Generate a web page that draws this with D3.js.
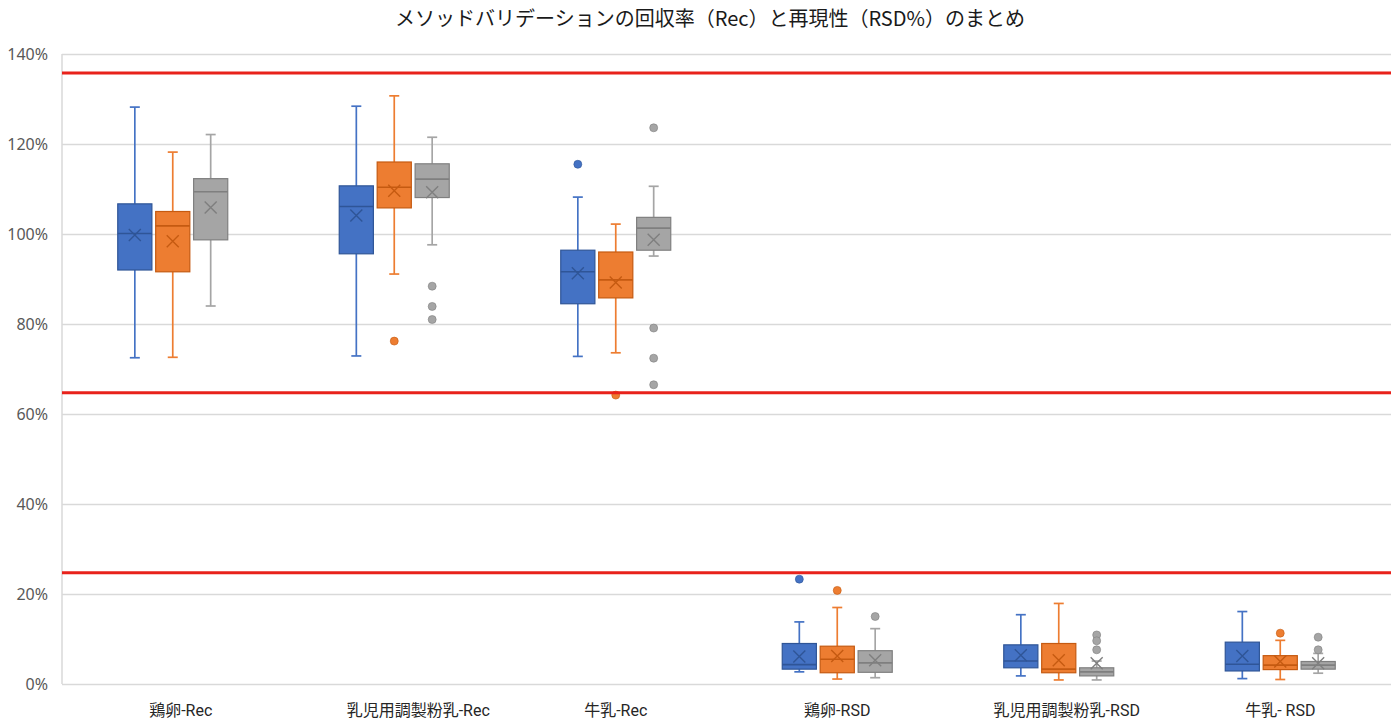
<!DOCTYPE html>
<html>
<head>
<meta charset="utf-8">
<script src="https://cdn.jsdelivr.net/npm/d3@7"></script>
<style>
  html, body { margin: 0; padding: 0; background: #ffffff; }
  svg text { white-space: pre; }
</style>
</head>
<body>
<svg id="chart" width="1391" height="720"></svg>
<script>
// Categories (x axis) and series
const categories = ["　鶏卵-Rec", "　　　乳児用調製粉乳-Rec", "牛乳-Rec", "鶏卵-RSD", "　乳児用調製粉乳-RSD", "牛乳- RSD"];
const seriesNames = ["系列1", "系列2", "系列3"];
const seriesColors = ["#4472C4", "#ED7D31", "#A5A5A5"];
const seriesDark = ["#2F5597", "#C55A11", "#7F7F7F"];

// Box statistics (%), one row per category, one entry per series
const whiskerHigh = [
  [128.2, 118.2, 122.1],
  [128.4, 130.7, 121.5],
  [108.2, 102.2, 110.6],
  [13.8, 17.0, 12.3],
  [15.4, 17.9, 5.1],
  [16.1, 9.7, 6.8]
];
const q3 = [
  [106.7, 105.0, 112.3],
  [110.7, 116.0, 115.6],
  [96.4, 96.0, 103.7],
  [9.0, 8.4, 7.4],
  [8.7, 9.0, 3.6],
  [9.3, 6.3, 5.0]
];
const median = [
  [100.1, 101.8, 109.4],
  [106.1, 110.4, 112.2],
  [91.6, 89.8, 101.3],
  [4.3, 5.5, 4.7],
  [5.1, 3.3, 2.7],
  [4.4, 4.2, 4.2]
];
const q1 = [
  [92.0, 91.6, 98.7],
  [95.6, 105.8, 108.1],
  [84.5, 85.8, 96.4],
  [3.3, 2.5, 2.6],
  [3.6, 2.5, 1.8],
  [2.9, 3.2, 3.3]
];
const whiskerLow = [
  [72.5, 72.6, 84.0],
  [72.9, 91.1, 97.6],
  [72.8, 73.6, 95.1],
  [2.7, 1.1, 1.4],
  [1.8, 0.9, 0.9],
  [1.2, 1.0, 2.4]
];
const mean = [
  [99.8, 98.4, 105.9],
  [104.1, 109.6, 109.3],
  [91.3, 89.2, 98.7],
  [6.1, 6.2, 5.3],
  [6.4, 5.3, 4.6],
  [6.2, 5.0, 4.6]
];
const outliers = [
  [[], [], []],
  [[], [76.2], [88.4, 83.9, 81.0]],
  [[115.5], [64.2], [123.6, 79.1, 72.4, 66.5]],
  [[23.3], [20.8], [15.0]],
  [[], [], [10.9, 9.6, 7.6]],
  [[], [11.3], [10.4, 7.6]]
];

// Reference (limit) lines, %
const limitLines = [135.8, 64.7, 24.7];
const yTicks = [0, 20, 40, 60, 80, 100, 120, 140];
const title = "メソッドバリデーションの回収率（Rec）と再現性（RSD%）のまとめ";

const svg = d3.select("#chart");
const plot = { left: 62, right: 1391, top: 54, bottom: 684 };

const x0 = d3.scaleBand().domain(categories).range([plot.left, plot.right]).padding(0);
const x1 = d3.scaleBand().domain(seriesNames).range([-55, 55]).paddingInner(0.1).paddingOuter(0);
const y = d3.scaleLinear().domain([0, 140]).range([plot.bottom, plot.top]);

// Title
svg.append("text")
  .attr("x", 710).attr("y", 21)
  .attr("text-anchor", "middle")
  .attr("dominant-baseline", "middle")
  .style("font-family", "'Noto Sans CJK JP', sans-serif")
  .style("font-size", "20px")
  .style("fill", "#1a1a1a")
  .text(title);

// Grid lines and y axis labels
const yAxis = d3.axisLeft(y).tickValues(yTicks).tickFormat(d => d + "%").tickSize(-(plot.right - plot.left)).tickPadding(14);
const gy = svg.append("g").attr("transform", `translate(${plot.left},0)`).call(yAxis);
gy.select(".domain").remove();
gy.selectAll(".tick line").attr("stroke", "#d9d9d9").attr("stroke-width", 1.5);
gy.selectAll(".tick text")
  .style("font-family", "'Noto Sans', sans-serif")
  .style("font-size", "16px")
  .style("fill", "#595959");

// Left axis line
svg.append("line")
  .attr("x1", plot.left).attr("x2", plot.left)
  .attr("y1", y(140)).attr("y2", y(0))
  .attr("stroke", "#d9d9d9").attr("stroke-width", 1.5);

// Category labels
const xAxis = d3.axisBottom(x0).tickSize(0).tickPadding(21);
const gx = svg.append("g").attr("transform", `translate(0,${plot.bottom})`).call(xAxis);
gx.select(".domain").remove();
gx.selectAll(".tick text")
  .style("font-family", "Roboto, 'Noto Sans CJK JP', sans-serif")
  .style("font-size", "16px")
  .style("fill", "#262626");

// Boxes
const capHalf = 5;
categories.forEach((cat, ci) => {
  const cx = x0(cat) + x0.bandwidth() / 2;
  seriesNames.forEach((s, si) => {
    const left = cx + x1(s);
    const bw = x1.bandwidth();
    const mid = left + bw / 2;
    const g = svg.append("g");
    const col = seriesColors[si], dark = seriesDark[si];

    // whiskers
    g.append("line").attr("x1", mid).attr("x2", mid)
      .attr("y1", y(whiskerHigh[ci][si])).attr("y2", y(q3[ci][si]))
      .attr("stroke", col).attr("stroke-width", 1.7);
    g.append("line").attr("x1", mid).attr("x2", mid)
      .attr("y1", y(q1[ci][si])).attr("y2", y(whiskerLow[ci][si]))
      .attr("stroke", col).attr("stroke-width", 1.7);
    [whiskerHigh[ci][si], whiskerLow[ci][si]].forEach(v => {
      g.append("line").attr("x1", mid - capHalf).attr("x2", mid + capHalf)
        .attr("y1", y(v)).attr("y2", y(v))
        .attr("stroke", col).attr("stroke-width", 1.7);
    });

    // box
    g.append("rect")
      .attr("x", left).attr("width", bw)
      .attr("y", y(q3[ci][si]))
      .attr("height", Math.max(1, y(q1[ci][si]) - y(q3[ci][si])))
      .attr("fill", col).attr("stroke", dark).attr("stroke-width", 1.2);

    // median
    g.append("line").attr("x1", left).attr("x2", left + bw)
      .attr("y1", y(median[ci][si])).attr("y2", y(median[ci][si]))
      .attr("stroke", dark).attr("stroke-width", 1.6);

    // mean marker
    const my = y(mean[ci][si]), m = 6;
    g.append("path")
      .attr("d", `M${mid - m},${my - m}L${mid + m},${my + m}M${mid - m},${my + m}L${mid + m},${my - m}`)
      .attr("stroke", dark).attr("stroke-width", 1.4).attr("fill", "none");

    // outliers
    g.selectAll("circle.out").data(outliers[ci][si]).enter().append("circle")
      .attr("class", "out")
      .attr("cx", mid).attr("cy", d => y(d)).attr("r", 4)
      .attr("fill", col).attr("stroke", dark).attr("stroke-width", 0.6);
  });
});

// Limit lines
svg.selectAll("line.limit").data(limitLines).enter().append("line")
  .attr("class", "limit")
  .attr("x1", plot.left).attr("x2", plot.right)
  .attr("y1", d => y(d)).attr("y2", d => y(d))
  .attr("stroke", "#E8221B").attr("stroke-width", 3);
</script>
</body>
</html>
